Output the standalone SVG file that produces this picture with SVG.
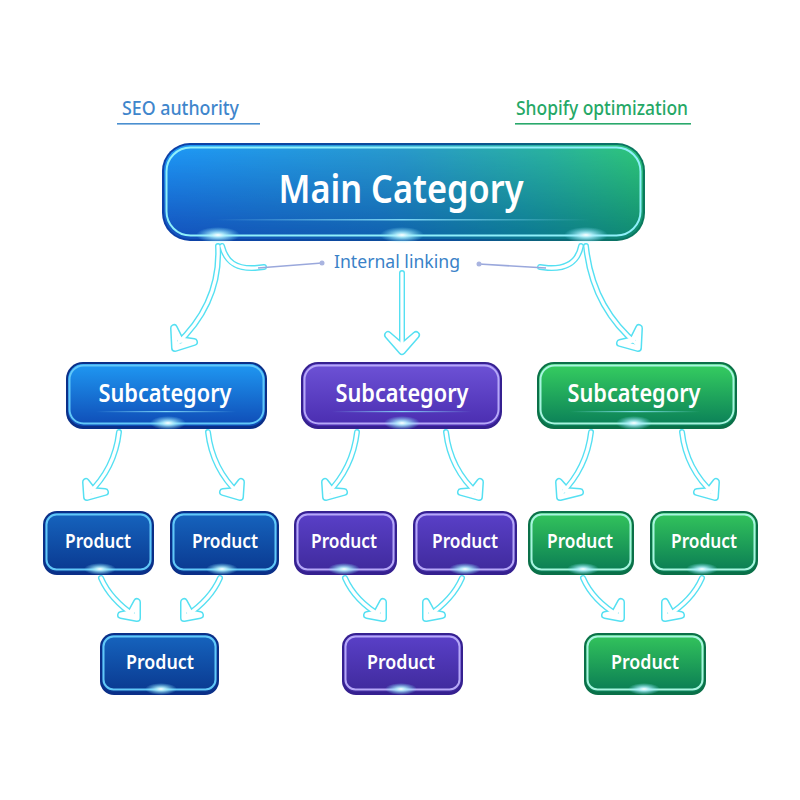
<svg xmlns="http://www.w3.org/2000/svg" width="800" height="800" viewBox="0 0 800 800">
<defs>
<style>
text{font-family:"Noto Sans","Open Sans","Liberation Sans",sans-serif;text-anchor:middle;dominant-baseline:central}
.n{fill:#fff;font-weight:600}
.main{font-size:39px}.sub{font-size:24.5px}.prod{font-size:20px}
.in{fill:none;stroke-width:2}
.ao{fill:none;stroke:#55e0f2;stroke-width:6;stroke-linecap:round;stroke-linejoin:round}
.ai{fill:none;stroke:#fff;stroke-width:3.2;stroke-linecap:round;stroke-linejoin:round}
.ho{fill:#fff;stroke:#55e0f2;stroke-width:8;stroke-linecap:round;stroke-linejoin:round}
.hi{fill:none;stroke:#fff;stroke-width:5;stroke-linecap:round;stroke-linejoin:round}
.b-s{fill:url(#gBlueS)}.b-p{fill:url(#gBlueP)}.p-s{fill:url(#gPurS)}.p-p{fill:url(#gPurP)}.g-s{fill:url(#gGreS)}.g-p{fill:url(#gGreP)}
.bo{fill:#0a2f88}.po{fill:#352090}.go{fill:#0a7048}
.bi{stroke:#62c8f8}.pi{stroke:#b6a8f8}.gi{stroke:#a8f5e0}
</style>
<linearGradient id="gMain" x1="0" y1="0" x2="1" y2="0"><stop offset="0" stop-color="#1e9af8"/><stop offset=".5" stop-color="#2a9ccc"/><stop offset=".8" stop-color="#2bb4a0"/><stop offset="1" stop-color="#30c878"/></linearGradient>
<linearGradient id="gMainDark" x1="0" y1="0" x2="1" y2="0"><stop offset="0" stop-color="#1450bc"/><stop offset=".45" stop-color="#1060b0"/><stop offset=".75" stop-color="#0c7894"/><stop offset="1" stop-color="#0f8a70"/></linearGradient>
<linearGradient id="gFade" x1="0" y1="0" x2="0" y2="1"><stop offset="0" stop-color="#fff"/><stop offset="1" stop-color="#000"/></linearGradient>
<mask id="mFade" maskUnits="userSpaceOnUse" x="160" y="140" width="490" height="105"><rect x="160" y="145" width="490" height="94" fill="url(#gFade)"/></mask>
<linearGradient id="gBorder" x1="0" y1="0" x2="1" y2="0"><stop offset="0" stop-color="#0c40a8"/><stop offset=".6" stop-color="#0c4f98"/><stop offset="1" stop-color="#0a7a5c"/></linearGradient>
<linearGradient id="gBlueS" x1="0" y1="0" x2="0" y2="1"><stop offset="0" stop-color="#1f98f2"/><stop offset="1" stop-color="#0f4cb6"/></linearGradient>
<linearGradient id="gBlueP" x1="0" y1="0" x2="0" y2="1"><stop offset="0" stop-color="#1664be"/><stop offset="1" stop-color="#0a3990"/></linearGradient>
<linearGradient id="gPurS" x1="0" y1="0" x2="0" y2="1"><stop offset="0" stop-color="#6d52d6"/><stop offset="1" stop-color="#4a2db0"/></linearGradient>
<linearGradient id="gPurP" x1="0" y1="0" x2="0" y2="1"><stop offset="0" stop-color="#5a40c8"/><stop offset="1" stop-color="#3f2a9c"/></linearGradient>
<linearGradient id="gGreS" x1="0" y1="0" x2="0" y2="1"><stop offset="0" stop-color="#36ce60"/><stop offset="1" stop-color="#0a7f58"/></linearGradient>
<linearGradient id="gGreP" x1="0" y1="0" x2="0" y2="1"><stop offset="0" stop-color="#33c45c"/><stop offset="1" stop-color="#0a7c54"/></linearGradient>
<linearGradient id="gLine" x1="0" y1="0" x2="1" y2="0"><stop offset="0" stop-color="#8fe8ff" stop-opacity="0"/><stop offset=".5" stop-color="#8fe8ff" stop-opacity=".85"/><stop offset="1" stop-color="#8fe8ff" stop-opacity="0"/></linearGradient>
<radialGradient id="glow"><stop offset="0" stop-color="#fff"/><stop offset=".3" stop-color="#b5f3ff" stop-opacity=".85"/><stop offset="1" stop-color="#7fe6ff" stop-opacity="0"/></radialGradient>
<g id="shafts">
<path d="M218 246C220 285 205 318 176 345"/>
<path d="M402 273V349"/>
<path d="M586 246C590 285 605 318 638 345"/>
<path d="M222 246C226 262 236 269 255 268L264 267"/>
<path d="M581 246C578 262 566 269 548 268L540 267"/>
<path d="M119 432C116 458 105 478 88 494"/>
<path d="M208 432C211 458 222 478 239 494"/>
<path d="M357 432C354 458 343 478 327 494"/>
<path d="M446 432C449 458 460 478 478 494"/>
<path d="M591 432C588 458 577 478 561 494"/>
<path d="M682 432C685 458 696 478 714 494"/>
<path d="M101 578C108 594 120 606 135 616"/>
<path d="M220 578C213 594 201 606 186 616"/>
<path d="M345 578C352 594 364 606 381 616"/>
<path d="M462 578C455 594 443 606 428 616"/>
<path d="M583 578C590 594 602 606 619 616"/>
<path d="M702 578C695 594 683 606 667 616"/>
</g>
<g id="heads">
<path d="M174 328L175 348L194 342L180 340Z"/>
<path d="M388 335L402 351L416 335L402 347Z"/>
<path d="M639 328L638 348L620 343L633 340Z"/>
<path d="M86 482L87 497L105 492L93 491Z"/>
<path d="M241 482L240 497L223 492L234 491Z"/>
<path d="M325 482L326 497L344 492L332 491Z"/>
<path d="M480 482L479 497L461 492L473 491Z"/>
<path d="M559 482L560 497L580 492L567 491Z"/>
<path d="M716 482L715 497L697 492L709 491Z"/>
<path d="M137 602L137 618L121 615L131 613Z"/>
<path d="M184 602L184 618L200 615L190 613Z"/>
<path d="M383 602L383 618L367 615L377 613Z"/>
<path d="M426 602L426 618L442 615L432 613Z"/>
<path d="M621 602L621 618L605 615L615 613Z"/>
<path d="M665 602L665 618L681 615L671 613Z"/>
</g>
</defs>
<rect width="800" height="800" fill="#fff"/>

<g id="connectors">
<use href="#shafts" class="ao"/>
<use href="#heads" class="ho"/>
<use href="#shafts" class="ai"/>
<use href="#heads" class="hi"/>
<path d="M258 268L322 263" fill="none" stroke="#9aa8dc" stroke-width="1.600"/><circle cx="322" cy="263" r="2.500" fill="#a9b4e0"/>
<path d="M546 268L479 264" fill="none" stroke="#9aa8dc" stroke-width="1.600"/><circle cx="479" cy="264" r="2.500" fill="#a9b4e0"/>
</g>

<g id="label-seo"><text x="180.500" y="107.500" font-size="19.500" font-weight="500" fill="#3f86cc" textLength="117" lengthAdjust="spacingAndGlyphs">SEO authority</text><rect x="117" y="123" width="143" height="1.600" fill="#4a8fd0"/></g>
<g id="label-shopify"><text x="602" y="107.500" font-size="19.500" font-weight="500" fill="#25a866" textLength="172" lengthAdjust="spacingAndGlyphs">Shopify optimization</text><rect x="515" y="123" width="176" height="1.600" fill="#2aa96c"/></g>
<g id="label-linking"><text x="397" y="260.500" font-size="18.500" fill="#3a82c8" textLength="126" lengthAdjust="spacingAndGlyphs">Internal linking</text></g>

<g id="main">
<rect x="162" y="143" width="483" height="98" rx="28" fill="url(#gBorder)"/>
<rect x="164" y="145" width="479" height="94" rx="26" fill="url(#gMainDark)"/>
<rect x="164" y="145" width="479" height="94" rx="26" fill="url(#gMain)" mask="url(#mFade)"/>
<rect x="166.500" y="147.500" width="474" height="88" rx="24" class="in" stroke="#8ff0fa"/>
<rect x="215" y="219" width="375" height="1.500" fill="url(#gLine)"/>
<ellipse cx="218" cy="235" rx="22" ry="8" fill="url(#glow)"/><ellipse cx="402" cy="235" rx="22" ry="8" fill="url(#glow)"/><ellipse cx="586" cy="235" rx="22" ry="8" fill="url(#glow)"/>
<text class="n main" x="401" y="187" textLength="245" lengthAdjust="spacingAndGlyphs">Main Category</text>
</g>

<g id="sub-blue"><rect x="66" y="362" width="201" height="67" rx="17" class="bo"/><rect x="68" y="364" width="197" height="62" rx="15" class="b-s"/><rect x="69.500" y="365.500" width="194" height="58" rx="14" class="in bi"/><rect x="96" y="411" width="140" height="1.200" fill="url(#gLine)"/><ellipse cx="168" cy="423" rx="18" ry="7" fill="url(#glow)"/><text class="n sub" x="165" y="392" textLength="133" lengthAdjust="spacingAndGlyphs">Subcategory</text></g>
<g id="sub-purple"><rect x="301" y="362" width="201" height="67" rx="17" class="po"/><rect x="303" y="364" width="197" height="62" rx="15" class="p-s"/><rect x="304.500" y="365.500" width="194" height="58" rx="14" class="in pi"/><rect x="332" y="411" width="140" height="1.200" fill="url(#gLine)"/><ellipse cx="402" cy="423" rx="18" ry="7" fill="url(#glow)"/><text class="n sub" x="402" y="392" textLength="133" lengthAdjust="spacingAndGlyphs">Subcategory</text></g>
<g id="sub-green"><rect x="537" y="362" width="200" height="67" rx="17" class="go"/><rect x="539" y="364" width="196" height="62" rx="15" class="g-s"/><rect x="540.500" y="365.500" width="193" height="58" rx="14" class="in gi"/><rect x="570" y="411" width="130" height="1.200" fill="url(#gLine)"/><ellipse cx="634" cy="423" rx="18" ry="7" fill="url(#glow)"/><text class="n sub" x="634" y="392" textLength="133" lengthAdjust="spacingAndGlyphs">Subcategory</text></g>

<g id="prod-b1"><rect x="43" y="511" width="111" height="64" rx="14" class="bo"/><rect x="45" y="513" width="107" height="59" rx="12" class="b-p"/><rect x="46.500" y="514.500" width="104" height="55" rx="10" class="in bi"/><ellipse cx="100" cy="569" rx="16" ry="6" fill="url(#glow)"/><text class="n prod" x="98" y="540" textLength="66" lengthAdjust="spacingAndGlyphs">Product</text></g>
<g id="prod-b2"><rect x="170" y="511" width="109" height="64" rx="14" class="bo"/><rect x="172" y="513" width="105" height="59" rx="12" class="b-p"/><rect x="173.500" y="514.500" width="102" height="55" rx="10" class="in bi"/><ellipse cx="222" cy="569" rx="16" ry="6" fill="url(#glow)"/><text class="n prod" x="225" y="540" textLength="66" lengthAdjust="spacingAndGlyphs">Product</text></g>
<g id="prod-p1"><rect x="294" y="511" width="103" height="64" rx="14" class="po"/><rect x="296" y="513" width="99" height="59" rx="12" class="p-p"/><rect x="297.500" y="514.500" width="96" height="55" rx="10" class="in pi"/><ellipse cx="344" cy="569" rx="16" ry="6" fill="url(#glow)"/><text class="n prod" x="344" y="540" textLength="66" lengthAdjust="spacingAndGlyphs">Product</text></g>
<g id="prod-p2"><rect x="413" y="511" width="104" height="64" rx="14" class="po"/><rect x="415" y="513" width="100" height="59" rx="12" class="p-p"/><rect x="416.500" y="514.500" width="97" height="55" rx="10" class="in pi"/><ellipse cx="465" cy="569" rx="16" ry="6" fill="url(#glow)"/><text class="n prod" x="465" y="540" textLength="66" lengthAdjust="spacingAndGlyphs">Product</text></g>
<g id="prod-g1"><rect x="528" y="511" width="106" height="64" rx="14" class="go"/><rect x="530" y="513" width="102" height="59" rx="12" class="g-p"/><rect x="531.500" y="514.500" width="99" height="55" rx="10" class="in gi"/><ellipse cx="583" cy="569" rx="16" ry="6" fill="url(#glow)"/><text class="n prod" x="580" y="540" textLength="66" lengthAdjust="spacingAndGlyphs">Product</text></g>
<g id="prod-g2"><rect x="650" y="511" width="108" height="64" rx="14" class="go"/><rect x="652" y="513" width="104" height="59" rx="12" class="g-p"/><rect x="653.500" y="514.500" width="101" height="55" rx="10" class="in gi"/><ellipse cx="702" cy="569" rx="16" ry="6" fill="url(#glow)"/><text class="n prod" x="704" y="540" textLength="66" lengthAdjust="spacingAndGlyphs">Product</text></g>

<g id="prod-b3"><rect x="100" y="633" width="119" height="62" rx="14" class="bo"/><rect x="102" y="635" width="115" height="57" rx="12" class="b-p"/><rect x="103.500" y="636.500" width="112" height="53" rx="10" class="in bi"/><ellipse cx="161" cy="689" rx="16" ry="6" fill="url(#glow)"/><text class="n prod" x="160" y="661.500" textLength="68" lengthAdjust="spacingAndGlyphs">Product</text></g>
<g id="prod-p3"><rect x="342" y="633" width="121" height="62" rx="14" class="po"/><rect x="344" y="635" width="117" height="57" rx="12" class="p-p"/><rect x="345.500" y="636.500" width="114" height="53" rx="10" class="in pi"/><ellipse cx="401" cy="689" rx="16" ry="6" fill="url(#glow)"/><text class="n prod" x="401" y="661.500" textLength="68" lengthAdjust="spacingAndGlyphs">Product</text></g>
<g id="prod-g3"><rect x="584" y="633" width="122" height="62" rx="14" class="go"/><rect x="586" y="635" width="118" height="57" rx="12" class="g-p"/><rect x="587.500" y="636.500" width="115" height="53" rx="10" class="in gi"/><ellipse cx="644" cy="689" rx="16" ry="6" fill="url(#glow)"/><text class="n prod" x="645" y="661.500" textLength="68" lengthAdjust="spacingAndGlyphs">Product</text></g>
</svg>
